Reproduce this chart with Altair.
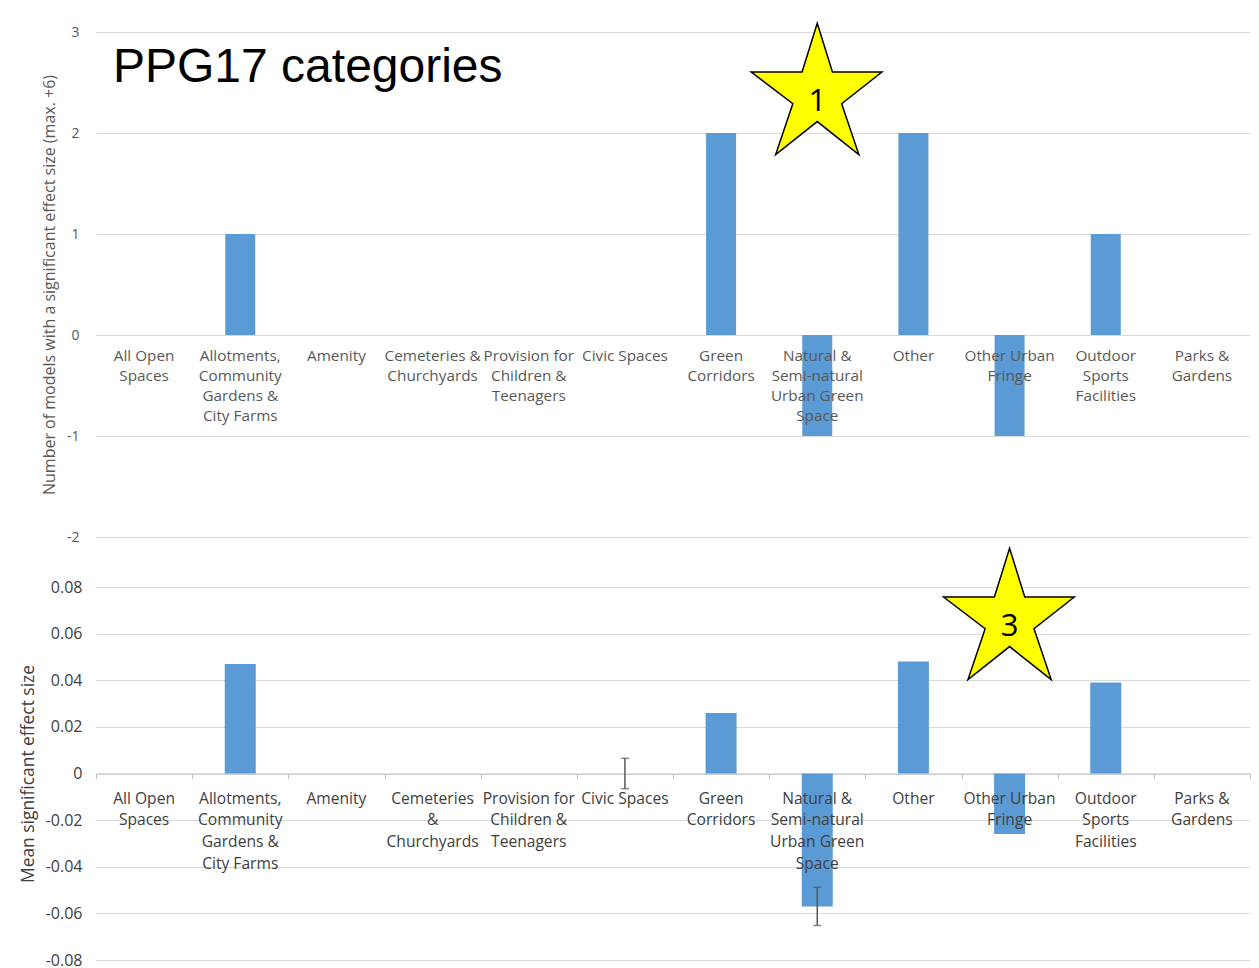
import altair as alt
import pandas as pd

categories = [
    "All Open Spaces",
    "Allotments, Community Gardens & City Farms",
    "Amenity",
    "Cemeteries & Churchyards",
    "Provision for Children & Teenagers",
    "Civic Spaces",
    "Green Corridors",
    "Natural & Semi-natural Urban Green Space",
    "Other",
    "Other Urban Fringe",
    "Outdoor Sports Facilities",
    "Parks & Gardens",
]
top_labels = [
    "All Open\nSpaces",
    "Allotments,\nCommunity\nGardens &\nCity Farms",
    "Amenity",
    "Cemeteries &\nChurchyards",
    "Provision for\nChildren &\nTeenagers",
    "Civic Spaces",
    "Green\nCorridors",
    "Natural &\nSemi-natural\nUrban Green\nSpace",
    "Other",
    "Other Urban\nFringe",
    "Outdoor\nSports\nFacilities",
    "Parks &\nGardens",
]
bottom_labels = [
    "All Open\nSpaces",
    "Allotments,\nCommunity\nGardens &\nCity Farms",
    "Amenity",
    "Cemeteries\n&\nChurchyards",
    "Provision for\nChildren &\nTeenagers",
    "Civic Spaces",
    "Green\nCorridors",
    "Natural &\nSemi-natural\nUrban Green\nSpace",
    "Other",
    "Other Urban\nFringe",
    "Outdoor\nSports\nFacilities",
    "Parks &\nGardens",
]
model_counts = [0, 1, 0, 0, 0, 0, 2, -1, 2, -1, 1, 0]
mean_effects = [0, 0.047, 0, 0, 0, 0, 0.026, -0.057, 0.048, -0.026, 0.039, 0]

err_categories = ["Civic Spaces", "Natural & Semi-natural Urban Green Space"]
err_center = [0.0, -0.057]
err_half = [0.0065, 0.0082]

star1_category = ["Natural & Semi-natural Urban Green Space"]
star1_value = [2.44]
star1_label = ["1"]
star3_category = ["Other Urban Fringe"]
star3_value = [0.0686]
star3_label = ["3"]

title_text = "PPG17 categories"
top_y_title = "Number of models with a significant effect size (max. +6)"
bottom_y_title = "Mean significant effect size"

BAR = "#5b9bd5"
GRID = "#d9d9d9"
FONT = "Open Sans"
STAR_PATH = ("M0,-0.99 L0.23,-0.25 L0.98,-0.25 L0.37,0.23 L0.63,1 L0,0.5 "
             "L-0.63,1 L-0.37,0.23 L-1,-0.25 L-0.23,-0.25 Z")

W = 1154
H_TOP = 505
H_BOT = 373

top_df = pd.DataFrame({"cat": categories, "val": model_counts, "label": top_labels})
bot_df = pd.DataFrame({"cat": categories, "val": mean_effects, "label": bottom_labels})
err_df = pd.DataFrame({
    "cat": err_categories,
    "lo": [c - h for c, h in zip(err_center, err_half)],
    "hi": [c + h for c, h in zip(err_center, err_half)],
})
s1_df = pd.DataFrame({"cat": star1_category, "val": star1_value, "label": star1_label})
s3_df = pd.DataFrame({"cat": star3_category, "val": star3_value, "label": star3_label})

x_top = alt.X("cat:N", sort=categories,
              scale=alt.Scale(type="band", domain=categories, paddingInner=0, paddingOuter=0),
              axis=None)
y_top = alt.Y("val:Q", scale=alt.Scale(domain=[-2, 3], nice=False, zero=False),
              axis=alt.Axis(values=[-2, -1, 0, 1, 2, 3], grid=True,
                            gridColor=GRID, gridWidth=1, domain=False, ticks=False,
                            labelExpr="datum.value < 0 ? '-' + format(-datum.value, 'd') : format(datum.value, 'd')",
                            labelFont=FONT, labelFontSize=14, labelColor="#595959",
                            labelPadding=17, title=top_y_title, titleFont=FONT,
                            titleFontSize=16, titleFontWeight="normal",
                            titleColor="#595959", titlePadding=9))

top_bars = alt.Chart(top_df).mark_bar(size=30, color=BAR).encode(x=x_top, y=y_top)
top_text = alt.Chart(top_df).mark_text(
    lineBreak="\n", baseline="top", align="center", dy=14, font=FONT,
    fontSize=15.3, lineHeight=20, color="#595959"
).encode(x=x_top, y=alt.Y("zero:Q"), text="label:N").transform_calculate(zero="0")
top_title = alt.Chart(pd.DataFrame({"t": [title_text]})).mark_text(
    align="left", baseline="alphabetic", font="Liberation Sans", fontSize=48,
    color="#000000"
).encode(x=alt.value(17), y=alt.value(50), text="t:N")
star1 = alt.Chart(s1_df).mark_point(
    shape=STAR_PATH, size=132 * 132, filled=True, fill="#ffff00", stroke="#000000",
    strokeWidth=1.5, opacity=1, fillOpacity=1
).encode(x=x_top, y=alt.Y("val:Q"))
star1_txt = alt.Chart(s1_df).mark_text(
    font=FONT, fontSize=31, color="#000000", baseline="middle", dy=13
).encode(x=x_top, y=alt.Y("val:Q"), text="label:N")

top_chart = alt.layer(top_bars, top_text, star1, star1_txt, top_title).properties(
    width=W, height=H_TOP)

x_bot = alt.X("cat:N", sort=categories,
              scale=alt.Scale(type="band", domain=categories, paddingInner=0, paddingOuter=0),
              axis=alt.Axis(labels=False, title=None, orient="bottom",
                            offset=-(H_BOT / 2), domainColor="#bfbfbf",
                            tickColor="#bfbfbf", tickSize=5, tickBand="extent",
                            grid=False))
y_bot = alt.Y("val:Q", scale=alt.Scale(domain=[-0.08, 0.08], nice=False),
              axis=alt.Axis(values=[-0.08, -0.06, -0.04, -0.02, 0, 0.02, 0.04, 0.06, 0.08],
                            grid=True, gridColor=GRID, gridWidth=1,
                            domain=False, ticks=False, labelFont=FONT,
                            labelFontSize=16, labelColor="#404040", labelPadding=14,
                            labelExpr="datum.value == 0 ? '0' : (datum.value < 0 ? '-' + format(-datum.value, '.2f') : format(datum.value, '.2f'))",
                            title=bottom_y_title, titleFont=FONT, titleFontSize=17.4,
                            titleFontWeight="normal", titleColor="#404040",
                            titlePadding=8))
x_bot_plain = alt.X("cat:N", sort=categories,
                    scale=alt.Scale(type="band", domain=categories, paddingInner=0, paddingOuter=0))

bot_bars = alt.Chart(bot_df).mark_bar(size=31, color=BAR).encode(x=x_bot, y=y_bot)
bot_text = alt.Chart(bot_df).mark_text(
    lineBreak="\n", baseline="top", align="center", dy=18, font=FONT,
    fontSize=15.6, lineHeight=21.7, color="#404040"
).encode(x=x_bot_plain, y=alt.Y("zero:Q"), text="label:N").transform_calculate(zero="0")
err_rule = alt.Chart(err_df).mark_rule(color="#595959", strokeWidth=1.5).encode(
    x=x_bot_plain, y=alt.Y("lo:Q"), y2="hi:Q")
err_lo = alt.Chart(err_df).mark_tick(color="#595959", thickness=1.5, size=8, orient="horizontal").encode(
    x=x_bot_plain, y=alt.Y("lo:Q"))
err_hi = alt.Chart(err_df).mark_tick(color="#595959", thickness=1.5, size=8, orient="horizontal").encode(
    x=x_bot_plain, y=alt.Y("hi:Q"))
star3 = alt.Chart(s3_df).mark_point(
    shape=STAR_PATH, size=132 * 132, filled=True, fill="#ffff00", stroke="#000000",
    strokeWidth=1.5, opacity=1, fillOpacity=1
).encode(x=x_bot_plain, y=alt.Y("val:Q"))
star3_txt = alt.Chart(s3_df).mark_text(
    font=FONT, fontSize=31, color="#000000", baseline="middle", dy=13
).encode(x=x_bot_plain, y=alt.Y("val:Q"), text="label:N")

bot_chart = alt.layer(bot_bars, err_rule, err_lo, err_hi, bot_text, star3, star3_txt).properties(
    width=W, height=H_BOT)

chart = alt.vconcat(top_chart, bot_chart, spacing=1).properties(
    padding={"left": 11, "top": 12, "right": 0, "bottom": 0},
    background="#ffffff"
).configure_view(stroke="transparent", strokeWidth=0)

chart.save("out.html", embed_options={"renderer": "svg", "actions": False})
